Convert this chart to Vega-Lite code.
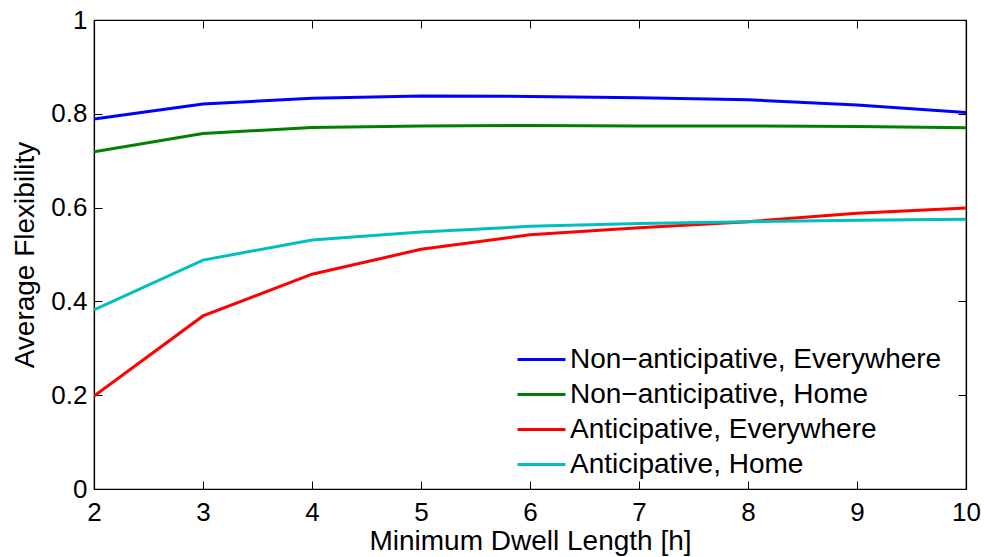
{
  "$schema": "https://vega.github.io/schema/vega-lite/v6.json",
  "autosize": {"type": "none"},
  "width": 872,
  "height": 469,
  "padding": {"left": 94, "top": 20, "right": 18, "bottom": 68},
  "background": "white",
  "config": {
    "font": "Liberation Sans",
    "view": {"stroke": "black", "strokeWidth": 1.2},
    "axis": {
      "domainColor": "black",
      "domainWidth": 1.2,
      "tickColor": "black",
      "tickWidth": 1,
      "tickSize": -8,
      "labelColor": "black",
      "titleColor": "black",
      "labelFont": "Liberation Sans",
      "titleFont": "Liberation Sans",
      "labelFontSize": 26,
      "titleFontSize": 28,
      "titleFontWeight": "normal",
      "grid": false
    }
  },
  "data": {
    "values": [
      {"h": 2, "v": 0.789, "s": "Non−anticipative, Everywhere"},
      {"h": 3, "v": 0.821, "s": "Non−anticipative, Everywhere"},
      {"h": 4, "v": 0.833, "s": "Non−anticipative, Everywhere"},
      {"h": 5, "v": 0.838, "s": "Non−anticipative, Everywhere"},
      {"h": 6, "v": 0.837, "s": "Non−anticipative, Everywhere"},
      {"h": 7, "v": 0.834, "s": "Non−anticipative, Everywhere"},
      {"h": 8, "v": 0.830, "s": "Non−anticipative, Everywhere"},
      {"h": 9, "v": 0.819, "s": "Non−anticipative, Everywhere"},
      {"h": 10, "v": 0.803, "s": "Non−anticipative, Everywhere"},
      {"h": 2, "v": 0.719, "s": "Non−anticipative, Home"},
      {"h": 3, "v": 0.758, "s": "Non−anticipative, Home"},
      {"h": 4, "v": 0.771, "s": "Non−anticipative, Home"},
      {"h": 5, "v": 0.774, "s": "Non−anticipative, Home"},
      {"h": 6, "v": 0.775, "s": "Non−anticipative, Home"},
      {"h": 7, "v": 0.774, "s": "Non−anticipative, Home"},
      {"h": 8, "v": 0.774, "s": "Non−anticipative, Home"},
      {"h": 9, "v": 0.773, "s": "Non−anticipative, Home"},
      {"h": 10, "v": 0.770, "s": "Non−anticipative, Home"},
      {"h": 2, "v": 0.198, "s": "Anticipative, Everywhere"},
      {"h": 3, "v": 0.369, "s": "Anticipative, Everywhere"},
      {"h": 4, "v": 0.458, "s": "Anticipative, Everywhere"},
      {"h": 5, "v": 0.511, "s": "Anticipative, Everywhere"},
      {"h": 6, "v": 0.542, "s": "Anticipative, Everywhere"},
      {"h": 7, "v": 0.557, "s": "Anticipative, Everywhere"},
      {"h": 8, "v": 0.570, "s": "Anticipative, Everywhere"},
      {"h": 9, "v": 0.588, "s": "Anticipative, Everywhere"},
      {"h": 10, "v": 0.599, "s": "Anticipative, Everywhere"},
      {"h": 2, "v": 0.382, "s": "Anticipative, Home"},
      {"h": 3, "v": 0.488, "s": "Anticipative, Home"},
      {"h": 4, "v": 0.531, "s": "Anticipative, Home"},
      {"h": 5, "v": 0.548, "s": "Anticipative, Home"},
      {"h": 6, "v": 0.560, "s": "Anticipative, Home"},
      {"h": 7, "v": 0.566, "s": "Anticipative, Home"},
      {"h": 8, "v": 0.570, "s": "Anticipative, Home"},
      {"h": 9, "v": 0.573, "s": "Anticipative, Home"},
      {"h": 10, "v": 0.575, "s": "Anticipative, Home"}
    ]
  },
  "layer": [
    {
      "mark": {"type": "line", "strokeWidth": 3, "clip": true},
      "encoding": {
        "x": {
          "field": "h", "type": "quantitative",
          "scale": {"domain": [2, 10], "nice": false, "zero": false},
          "axis": {"orient": "bottom", "values": [2,3,4,5,6,7,8,9,10], "title": "Minimum Dwell Length [h]", "labelPadding": 18, "titlePadding": 2, "labelFlush": false}
        },
        "y": {
          "field": "v", "type": "quantitative",
          "scale": {"domain": [0, 1], "nice": false},
          "axis": {"orient": "left", "values": [0, 0.2, 0.4, 0.6, 0.8, 1], "format": "~g", "title": "Average Flexibility", "labelPadding": 15, "titlePadding": 11, "labelFlush": false}
        },
        "color": {
          "field": "s", "type": "nominal",
          "sort": ["Non−anticipative, Everywhere", "Non−anticipative, Home", "Anticipative, Everywhere", "Anticipative, Home"],
          "scale": {
            "domain": ["Non−anticipative, Everywhere", "Non−anticipative, Home", "Anticipative, Everywhere", "Anticipative, Home"],
            "range": ["#0000ff", "#008000", "#ff0000", "#00bfbf"]
          },
          "legend": {
            "orient": "none",
            "legendX": 422,
            "legendY": 322,
            "title": null,
            "padding": 0,
            "symbolType": "stroke",
            "symbolSize": 2304,
            "symbolStrokeWidth": 3,
            "clipHeight": 35,
            "labelFontSize": 28,
            "labelFont": "Liberation Sans",
            "labelColor": "black",
            "labelOffset": 3,
            "labelLimit": 500,
            "rowPadding": 0
          }
        }
      }
    },
    {
      "mark": {"type": "line", "opacity": 0},
      "encoding": {
        "x": {
          "field": "h", "type": "quantitative",
          "axis": {"orient": "top", "values": [2,3,4,5,6,7,8,9,10], "labels": false, "title": null}
        },
        "y": {
          "field": "v", "type": "quantitative",
          "axis": {"orient": "right", "values": [0, 0.2, 0.4, 0.6, 0.8, 1], "labels": false, "title": null}
        }
      }
    }
  ],
  "resolve": {"axis": {"x": "independent", "y": "independent"}}
}
